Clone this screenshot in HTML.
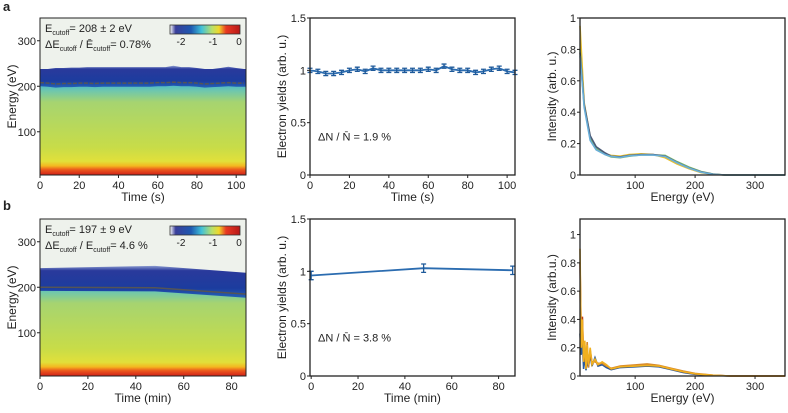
<!DOCTYPE html>
<html><head><meta charset="utf-8"><style>
body{margin:0;background:#fff;width:788px;height:408px;overflow:hidden}
svg{font-family:"Liberation Sans",sans-serif}
text{fill:#222}
</style></head><body>
<svg id="fig" width="788" height="408">
<defs>
<linearGradient id="hmA" x1="0" y1="0" x2="0" y2="1">
<stop offset="0" stop-color="#48b6cc"/><stop offset="0.07" stop-color="#6cc6b0"/><stop offset="0.2" stop-color="#a6d470"/><stop offset="0.7" stop-color="#c8dc48"/><stop offset="0.85" stop-color="#e2e03a"/><stop offset="0.9" stop-color="#f4b820"/><stop offset="0.94" stop-color="#ec5a1c"/><stop offset="1" stop-color="#d0201a"/>
</linearGradient>
<linearGradient id="blueBand" x1="0" y1="0" x2="0" y2="1">
<stop offset="0" stop-color="#8a9ad0"/><stop offset="0.15" stop-color="#2a3a9c"/><stop offset="0.7" stop-color="#1c3c9e"/><stop offset="1" stop-color="#2462b8"/>
</linearGradient>
<linearGradient id="cbar" x1="0" y1="0" x2="1" y2="0">
<stop offset="0" stop-color="#ffffff"/><stop offset="0.08" stop-color="#3a3f9a"/><stop offset="0.3" stop-color="#1e58b0"/><stop offset="0.45" stop-color="#40c0d8"/><stop offset="0.6" stop-color="#b8e06a"/><stop offset="0.7" stop-color="#f0d82a"/><stop offset="0.8" stop-color="#e83a22"/><stop offset="1" stop-color="#b81818"/>
</linearGradient>
</defs>
</svg>
<script>
// ---- data ----
const timesA=[0,4,8,12,16,20,24,28,32,36,40,44,48,52,56,60,64,68,72,76,80,84,88,92,96,100,104];
const yieldA=[1.0,0.99,0.97,0.97,0.98,1.0,1.01,0.99,1.02,1.0,1.0,1.0,1.0,1.0,1.0,1.01,1.0,1.04,1.01,1.0,1.0,0.98,0.99,1.01,1.02,0.99,0.98];
const cutoffA=[208,207,205,206,206,207,207,206,207,207,207,207,207,207,207,208,208,209,208,208,207,205,206,207,208,207,207];
const timesB=[0,48,86];
const yieldB=[0.96,1.03,1.01];
const errB=[0.04,0.04,0.04];
const cutoffB=[200,199,185];
const bandTopA=[238,238,240,240,241,241,242,242,242,242,242,242,242,242,242,242,242,245,242,242,240,238,238,240,243,240,238];
const bandTopB=[242,247,232];
const specE_A=[8,15,25,35,50,60,75,90,110,130,150,170,190,210,230,250,350];
const specA1=[0.78,0.45,0.25,0.18,0.14,0.12,0.115,0.125,0.13,0.13,0.12,0.08,0.045,0.02,0.005,0,0];
const specA2=[0.95,0.46,0.24,0.17,0.135,0.125,0.12,0.13,0.135,0.13,0.11,0.07,0.04,0.015,0.004,0,0];
const specA3=[0.8,0.44,0.23,0.17,0.13,0.115,0.11,0.12,0.128,0.128,0.125,0.085,0.05,0.022,0.006,0,0];
const specA4=[0.76,0.43,0.22,0.16,0.13,0.118,0.112,0.122,0.127,0.127,0.118,0.078,0.044,0.018,0.004,0,0];
const specE_B=[8,10,12,14,16,18,20,22,25,28,33,38,45,52,60,75,100,120,140,160,180,200,230,260,350];
const specB1=[0.9,0.2,0.4,0.1,0.25,0.05,0.22,0.08,0.2,0.08,0.12,0.08,0.1,0.08,0.05,0.065,0.07,0.075,0.07,0.05,0.03,0.015,0.005,0,0];
const specB2=[0.6,0.25,0.3,0.15,0.22,0.1,0.24,0.06,0.18,0.1,0.1,0.09,0.09,0.07,0.055,0.07,0.078,0.085,0.075,0.055,0.035,0.018,0.006,0,0];
const specB3=[0.3,0.15,0.25,0.05,0.15,0.04,0.12,0.06,0.15,0.07,0.13,0.07,0.08,0.06,0.045,0.06,0.065,0.07,0.065,0.045,0.025,0.012,0.004,0,0];
const specB4=[0.8,0.3,0.42,0.12,0.2,0.06,0.18,0.07,0.17,0.09,0.11,0.08,0.095,0.075,0.05,0.066,0.072,0.078,0.07,0.05,0.03,0.015,0.005,0,0];

const NS="http://www.w3.org/2000/svg";
const svg=document.getElementById('fig');
function el(tag,attrs,parent,txt){const e=document.createElementNS(NS,tag);for(const k in attrs)e.setAttribute(k,attrs[k]);if(txt!==undefined)e.textContent=txt;(parent||svg).appendChild(e);return e;}
function lin(d0,d1,r0,r1){return v=>r0+(v-d0)*(r1-r0)/(d1-d0);}

function axes(g,x0,x1,y0,y1,sx,sy,xt,yt,xl,yl,xtitle,ytitle,box){
  if(box){const r=el('rect',{x:x0,y:y0,width:x1-x0,height:y1-y0,fill:'none',stroke:'#222','stroke-width':1.3},g);
  
  }
  xt.forEach((v,i)=>{const x=sx(v);el('line',{x1:x,x2:x,y1:y1,y2:y1+3,stroke:'#222'},g);
    const t=el('text',{x:x,y:y1+14,'font-size':11,'text-anchor':'middle'},g,xl[i]);
    
    });
  yt.forEach((v,i)=>{const y=sy(v);el('line',{x1:x0-3,x2:x0,y1:y,y2:y,stroke:'#222'},g);
    const t=el('text',{x:x0-4,y:y+4,'font-size':11,'text-anchor':'end'},g,yl[i]);
    
    });
  const xtT=el('text',{x:(x0+x1)/2,y:y1+26,'font-size':12,'text-anchor':'middle'},g,xtitle);
  
  
  const ytT=el('text',{x:0,y:0,'font-size':12,'text-anchor':'middle',transform:`translate(${x0-24},${(y0+y1)/2}) rotate(-90)`},g,ytitle);
  
  
}

function heatmap(y0,y1,tMax,times,bandTop,cutoff,xt,xl,xtitle,t1,t2,name){
  const g=el('g',{});
  
  
  const x0=40,x1=246;
  const sx=lin(0,tMax,x0,x1), sy=lin(5,350,y1,y0);
  el('rect',{x:x0,y:y0,width:x1-x0,height:y1-y0,fill:'#eef2ec'},g);
  el('rect',{x:x0,y:sy(205),width:x1-x0,height:y1-sy(205),fill:'url(#hmA)'},g);
  let top=times.map((t,i)=>`${sx(t)},${sy(bandTop[i])}`).join(' L');
  let bot=times.slice().reverse().map((t,i)=>{const j=times.length-1-i;return `${sx(t)},${sy(cutoff[j]-8)}`;}).join(' L');
  el('path',{d:`M${x0},${sy(bandTop[0])} L${top} L${x1},${sy(bandTop[bandTop.length-1])} L${x1},${sy(cutoff[cutoff.length-1]-8)} L${bot} L${x0},${sy(cutoff[0]-8)} Z`,fill:'url(#blueBand)'},g);
  const ln=el('path',{d:'M'+times.map((t,i)=>`${sx(t)},${sy(cutoff[i])}`).join(' L'),fill:'none',stroke:'#555','stroke-width':1.5,'stroke-dasharray':times.length>5?'4 1.5':'none'},g);
  
  
  el('rect',{x:x0,y:y0,width:x1-x0,height:y1-y0,fill:'none',stroke:'#222','stroke-width':1},g);
  const cb=el('rect',{x:170,y:y0+7,width:70,height:9,fill:'url(#cbar)',stroke:'#333','stroke-width':0.8},g);
  
  
  [['-2',181],['-1',213],['0',239]].forEach(c=>el('text',{x:c[1],y:y0+27,'font-size':10,'text-anchor':'middle'},g,c[0]));
  const a=el('text',{x:45,y:y0+14,'font-size':11},g);
  a.innerHTML=t1;
  
  
  const b=el('text',{x:45,y:y0+30,'font-size':11},g);
  b.innerHTML=t2;
  
  
  axes(g,x0,x1,y0,y1,sx,sy,xt,[100,200,300],xl,['100','200','300'],xtitle,'Energy (eV)',false);
}

function yields(y0,y1,tMin,tMax,times,vals,errs,xt,xl,xtitle,ann,name){
  const g=el('g',{});
  
  
  const x0=310,x1=515; const sx=lin(tMin,tMax,x0,x1), sy=lin(0,1.5,y1,y0);
  el('path',{d:'M'+times.map((t,i)=>`${sx(t)},${sy(vals[i])}`).join(' L'),fill:'none',stroke:'#2b6cb0','stroke-width':1.8},g);
  times.forEach((t,i)=>{const x=sx(t),e=errs[i],a=sy(vals[i]+e),b=sy(vals[i]-e);
    const eb=el('path',{d:`M${x},${a} L${x},${b} M${x-2.5},${a} L${x+2.5},${a} M${x-2.5},${b} L${x+2.5},${b}`,stroke:'#1f5a9a','stroke-width':1.3,fill:'none'},g);
    
    });
  axes(g,x0,x1,y0,y1,sx,sy,xt,[0,0.5,1,1.5],xl,['0','0.5','1','1.5'],xtitle,'Electron yields (arb. u.)',true);
  const t=el('text',{x:318,y:y0+(y1-y0)*0.78,'font-size':11},g);
  t.innerHTML=ann;
  
  
}

function spectra(y0,y1,yMax,E,series,colors,yt,yl,ytitle,name){
  const g=el('g',{});
  
  
  const x0=580,x1=785; const sx=lin(8,350,x0,x1), sy=lin(0,yMax,y1,y0);
  series.forEach((s,k)=>{const p=el('path',{d:'M'+E.map((e,i)=>`${sx(e)},${sy(s[i])}`).join(' L'),fill:'none',stroke:colors[k],'stroke-width':1.6},g);
    
    });
  axes(g,x0,x1,y0,y1,sx,sy,[100,200,300],yt,['100','200','300'],yl,'Energy (eV)',ytitle,true);
}

const sub=(s)=>`<tspan font-size="7" dy="3">${s}</tspan><tspan dy="-3">`;
heatmap(18,175,105,timesA,bandTopA,cutoffA,[0,20,40,60,80,100],['0','20','40','60','80','100'],'Time (s)',
 `E${sub('cutoff')}= 208 ± 2 eV</tspan>`,`ΔE${sub('cutoff')} / Ē${sub('cutoff')}= 0.78%</tspan>`,'heatmap-a');
heatmap(219,376,86,timesB,bandTopB,cutoffB,[0,20,40,60,80],['0','20','40','60','80'],'Time (min)',
 `E${sub('cutoff')}= 197 ± 9 eV</tspan>`,`ΔE${sub('cutoff')} / E${sub('cutoff')}= 4.6 %</tspan>`,'heatmap-b');
yields(18,175,0,104,timesA,yieldA,timesA.map(()=>0.02),[0,20,40,60,80,100],['0','20','40','60','80','100'],'Time (s)','ΔN / N̄ = 1.9 %','yield-chart-a');
yields(219,376,-0.5,87,timesB,yieldB,errB,[0,20,40,60,80],['0','20','40','60','80'],'Time (min)','ΔN / N̄ = 3.8 %','yield-chart-b');
spectra(18,175,1,specE_A,[specA2,specA3,specA1,specA4],['#e8c030','#7cb86a','#4a5a78','#6aaed8'],[0,0.2,0.4,0.6,0.8,1],['0','0.2','0.4','0.6','0.8','1'],'Intensity (arb. u.)','spectra-a');
spectra(219,376,1.11,specE_B,[specB3,specB4,specB2,specB1],['#2a5a9a','#b8401c','#d88a2a','#f0b020'],[0,0.2,0.4,0.6,0.8,1],['0','0.2','0.4','0.6','0.8','1'],'Intensity (arb.u.)','spectra-b');
const la=el('text',{x:3,y:11,'font-size':13,'font-weight':'bold'},svg,'a');


const lb=el('text',{x:3,y:210,'font-size':13,'font-weight':'bold'},svg,'b');


</script>
</body></html>
